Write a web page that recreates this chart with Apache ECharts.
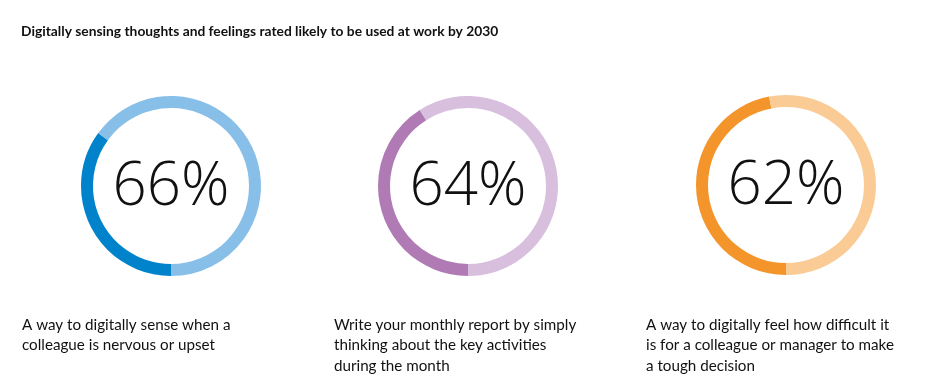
<!DOCTYPE html>
<html><head><meta charset="utf-8">
<script src="https://cdn.jsdelivr.net/npm/echarts@6/dist/echarts.min.js"></script>
<style>html,body{margin:0;padding:0;background:#fff}#c{width:925px;height:390px}</style>
</head><body><div id="c"></div>
<script>
const chartTitle = "Digitally sensing thoughts and feelings rated likely to be used at work by 2030";
const centerLabels = ["66%", "64%", "62%"];
const darkArc = [35, 41, 47];
const lightArc = [65, 59, 53];
const captions = [
  "A way to digitally sense when a\ncolleague is nervous or upset",
  "Write your monthly report by simply\nthinking about the key activities\nduring the month",
  "A way to digitally feel how difficult it\nis for a colleague or manager to make\na tough decision"
];
const darkColors = ["#0083CB", "#B07AB4", "#F3952B"];
const lightColors = ["#88BFE8", "#D7BFDD", "#FBCB95"];

const centers = [[171, 186], [468, 186], [786, 185]];
const captionX = [22, 334, 646];

const chart = echarts.init(document.getElementById('c'), null, {renderer: 'canvas'});
const titles = [{
  text: chartTitle, left: 21, top: 25, padding: 0,
  textStyle: {fontFamily: 'Lato', fontWeight: 'bold', fontSize: 13.8, color: '#111'}
}];
captions.forEach((t, i) => titles.push({
  text: t, left: captionX[i], top: 315, padding: 0,
  textStyle: {fontFamily: 'Lato', fontWeight: 'normal', fontSize: 15.2, lineHeight: 20.3, color: '#111'}
}));
const series = centerLabels.map((lab, i) => ({
  type: 'pie', center: centers[i], radius: [78, 90], startAngle: -90, clockwise: true,
  silent: true, animation: false,
  label: {show: false}, labelLine: {show: false},
  data: [
    {value: darkArc[i], itemStyle: {color: darkColors[i]}},
    {value: lightArc[i], itemStyle: {color: lightColors[i]}}
  ]
}));
const graphics = centerLabels.map((lab, i) => ({
  type: 'text', x: centers[i][0], y: centers[i][1] + 2,
  style: {text: lab, fontFamily: 'Open Sans', fontWeight: 300, fontSize: 60,
    fill: '#111', align: 'center', verticalAlign: 'middle'}
}));
chart.setOption({title: titles, series: series, graphic: graphics, animation: false});
</script></body></html>
